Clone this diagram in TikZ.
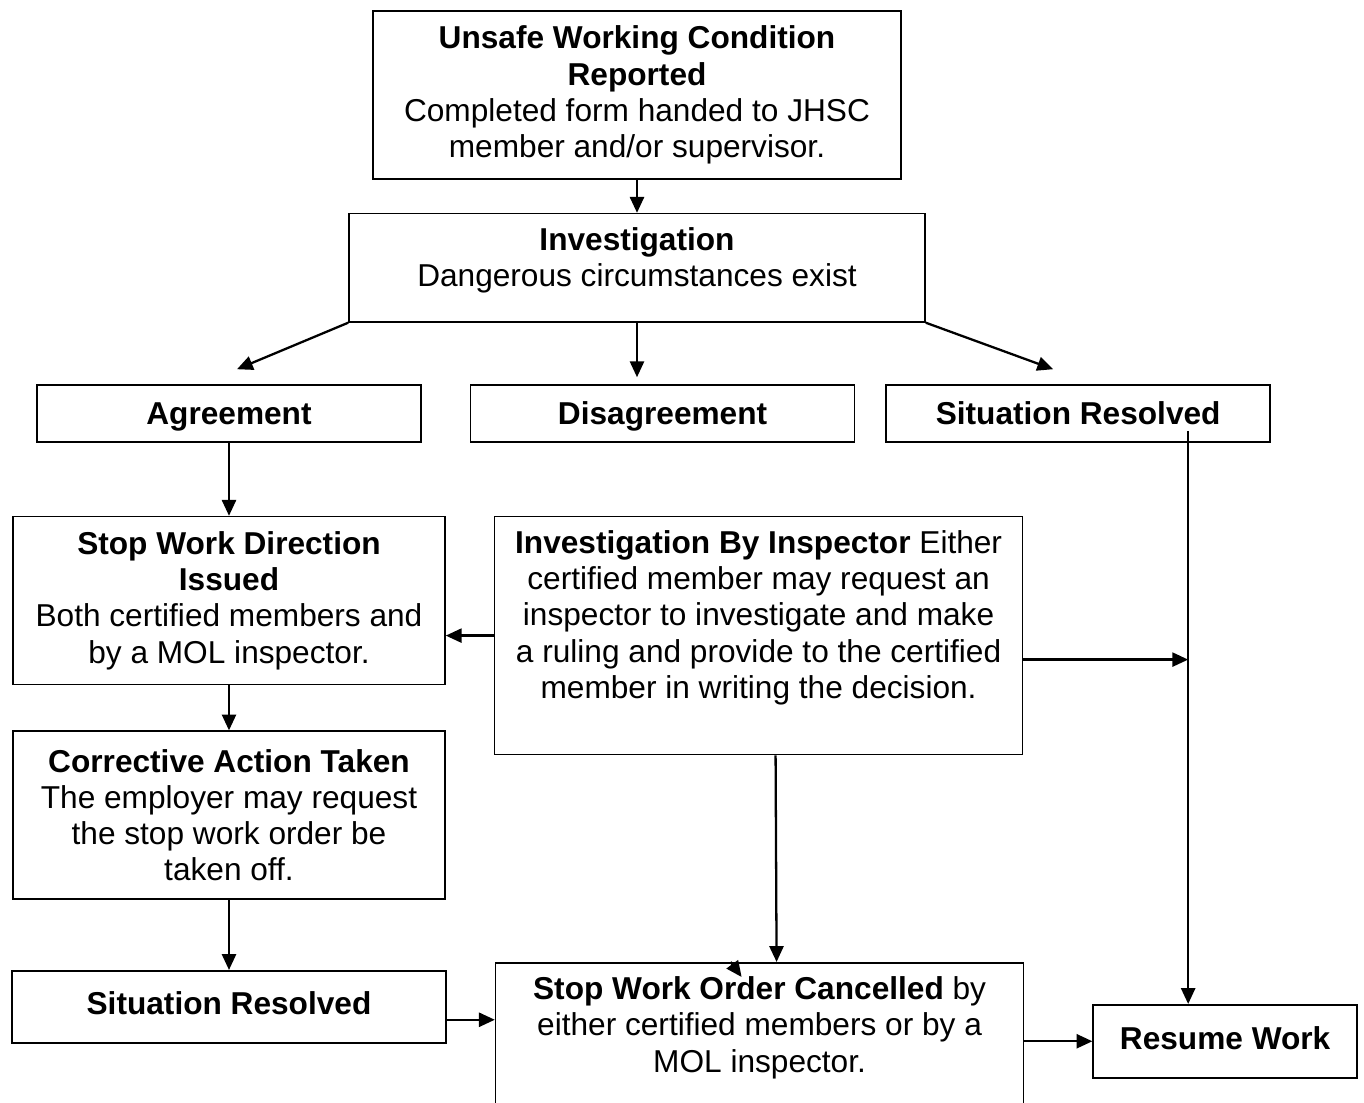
\documentclass[tikz,border=0pt]{standalone}
\usepackage{fontspec}
\setmainfont{Liberation Sans}
\usetikzlibrary{positioning,arrows.meta,calc}

\begin{document}
\begin{tikzpicture}[
        font=\fontsize{18}{20.6}\selectfont,
        node distance=0.66cm and 0.96cm,
        box/.style={draw, line width=0.9pt, align=center, inner xsep=4pt, inner ysep=8pt},
        onebox/.style={box, inner ysep=4pt, text height=13pt, text depth=4pt},
        rowbox/.style={box, inner ysep=4pt, text height=17pt, text depth=4pt, minimum width=7.68cm, minimum height=1.14cm},
        line/.style={-{Triangle[length=9pt, width=8pt]}, line width=1.3pt}
    ]
        \useasboundingbox (0,0) rectangle (27.28,-22.04);

        \node[box, minimum width=10.56cm, minimum height=3.36cm] (report) at (12.74,-1.90)
            {\textbf{Unsafe Working Condition}\\\textbf{Reported}\\Completed form handed to JHSC\\member and/or supervisor.};
        \node[box, below=of report, minimum width=11.52cm, text depth=12pt] (inv)
            {\textbf{Investigation}\\Dangerous circumstances exist};

        \node[rowbox] (agree) at (4.58,-8.27) {\textbf{Agreement}};
        \node[rowbox, right=0.96cm of agree] (disagree) {\textbf{Disagreement}};
        \node[rowbox, right=0.6cm of disagree] (sresA) {\textbf{Situation Resolved}};

        \node[box, below=1.46cm of agree, minimum width=8.64cm, minimum height=3.36cm] (swd)
            {\textbf{Stop Work Direction}\\\textbf{Issued}\\Both certified members and\\by a MOL inspector.};
        \node[box, below=0.9cm of swd, minimum width=8.64cm, minimum height=3.36cm] (action)
            {\textbf{Corrective Action Taken}\\The employer may request\\the stop work order be\\taken off.};
        \node[onebox, below=1.4cm of action, minimum width=8.68cm, minimum height=1.44cm] (sresB) {\textbf{Situation Resolved}};

        \node[box, right=0.96cm of swd.north east, anchor=north west, minimum width=10.56cm, text depth=24pt] (insp)
            {\textbf{Investigation By Inspector} Either\\certified member may request an\\inspector to investigate and make\\a ruling and provide to the certified\\member in writing the decision.};
        \node[box, right=0.96cm of sresB.north east, anchor=north west, yshift=0.16cm, minimum width=10.56cm, text depth=20pt] (cancel)
            {\textbf{Stop Work Order Cancelled} by\\either certified members or by a\\MOL inspector.};
        \node[onebox, right=1.36cm of cancel.north east, anchor=north west, yshift=-0.84cm, minimum width=5.28cm, minimum height=1.46cm] (resume) {\textbf{Resume Work}};

        \coordinate (rstart) at ($(sresA.south)+(2.2,0.24)$);
        \coordinate (rtop) at (rstart |- resume.north);
        \coordinate (inspout) at ($(insp.east)+(0,-0.48)$);
        \coordinate (sresout) at ($(sresB.east)+(0,-0.26)$);
        \coordinate (stray) at ($(cancel.north)+(-0.58,0)$);

        \draw[line] (report) -- (inv);
        \draw[line] (inv.south west) -- ($(agree.north)+(0.16,0.3)$);
        \draw[line, shorten >=0.14cm] (inv.south) -- (inv.south |- disagree.north);
        \draw[line] (inv.south east) -- ($(sresA.north)+(-0.5,0.3)$);
        \draw[line] (agree.south) -- (agree.south |- swd.north);
        \draw[line] (swd) -- (action);
        \draw[line] (insp.west) -- (insp.west -| swd.east);
        \draw[line] (rstart) -- (rtop);
        \draw[line] (inspout) -- (inspout -| rstart);
        \draw[line] ($(insp.south)+(0.34,0)$) -- ($(cancel.north)+(0.34,0)$);
        \draw[line] (stray) -- ++(0.22,-0.3);
        \draw[line] (action) -- (sresB);
        \draw[line] (sresout) -- (sresout -| cancel.west);
        \draw[line] (cancel.east |- resume.west) -- (resume.west);
    \end{tikzpicture}
\end{document}
